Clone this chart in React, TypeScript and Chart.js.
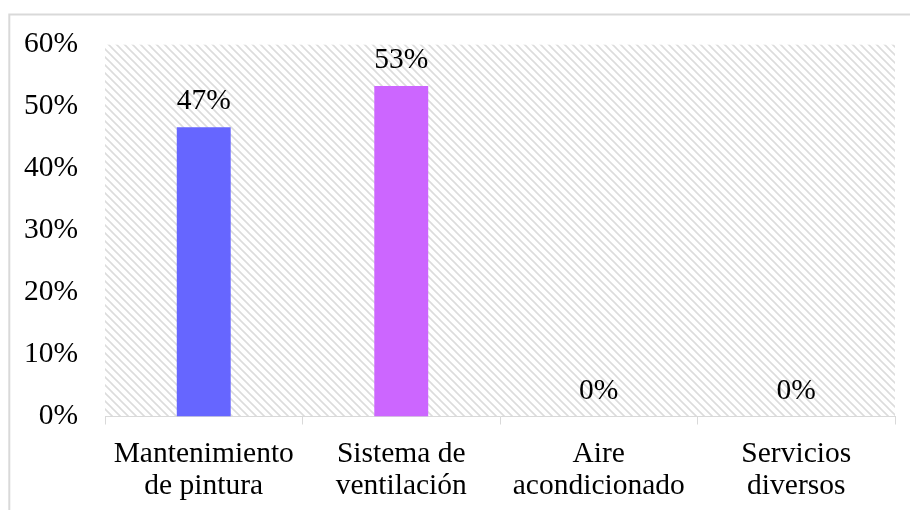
import React, { useEffect, useRef } from "react";
import { Chart, registerables } from "chart.js";

Chart.register(...registerables);

const categories: string[][] = [
  ["Mantenimiento", "de pintura"],
  ["Sistema de", "ventilación"],
  ["Aire", "acondicionado"],
  ["Servicios", "diversos"],
];
const values: number[] = [46.67, 53.33, 0, 0];
const valueLabels: string[] = ["47%", "53%", "0%", "0%"];
const barColors: string[] = ["#6666FF", "#CC66FF", "#6666FF", "#CC66FF"];
const yTicks = { min: 0, max: 60, step: 10 };

const FONT = "'Liberation Serif', 'Times New Roman', serif";
const FS = 29.5;

function makePattern(ctx: CanvasRenderingContext2D): CanvasPattern | string {
  const c = document.createElement("canvas");
  c.width = 8;
  c.height = 8;
  const g = c.getContext("2d");
  if (!g) return "#eee";
  g.fillStyle = "#ffffff";
  g.fillRect(0, 0, 8, 8);
  g.strokeStyle = "#dcdcdc";
  g.lineWidth = 1.6;
  g.beginPath();
  g.moveTo(-2, -2);
  g.lineTo(10, 10);
  g.moveTo(-2, 6);
  g.lineTo(2, 10);
  g.moveTo(6, -2);
  g.lineTo(10, 2);
  g.stroke();
  return ctx.createPattern(c, "repeat") || "#eee";
}

const decorPlugin = {
  id: "decor",
  beforeDraw(chart: any) {
    const { ctx, chartArea } = chart;
    ctx.save();
    ctx.fillStyle = "#ffffff";
    ctx.fillRect(0, 0, chart.width, chart.height);
    ctx.strokeStyle = "#d9d9d9";
    ctx.lineWidth = 2;
    ctx.beginPath();
    ctx.moveTo(9.3, chart.height);
    ctx.lineTo(9.3, 14.5);
    ctx.lineTo(chart.width, 14.5);
    ctx.stroke();
    ctx.fillStyle = makePattern(ctx) as any;
    ctx.fillRect(
      chartArea.left,
      chartArea.top,
      chartArea.right - chartArea.left,
      chartArea.bottom - chartArea.top
    );
    ctx.restore();
  },
  afterDatasetsDraw(chart: any) {
    const { ctx } = chart;
    const meta = chart.getDatasetMeta(0);
    ctx.save();
    ctx.font = `${FS}px ${FONT}`;
    ctx.fillStyle = "#000000";
    ctx.textAlign = "center";
    ctx.textBaseline = "alphabetic";
    meta.data.forEach((bar: any, i: number) => {
      ctx.fillText(valueLabels[i], bar.x, bar.y - 18);
    });
    ctx.restore();
  },
};

export default function App() {
  const ref = useRef<HTMLCanvasElement>(null);
  useEffect(() => {
    document.body.style.margin = "0";
    if (!ref.current) return;
    const chart = new Chart(ref.current, {
      type: "bar",
      data: {
        labels: categories,
        datasets: [
          {
            data: values,
            backgroundColor: barColors,
            borderWidth: 0,
            barPercentage: 0.273,
            categoryPercentage: 1,
          },
        ],
      },
      options: {
        responsive: false,
        animation: false,
        layout: { padding: { left: 0, top: 43.5, right: 15, bottom: 0 } },
        plugins: {
          legend: { display: false },
          tooltip: { enabled: false },
        },
        scales: {
          x: {
            grid: {
              display: true,
              drawOnChartArea: false,
              drawTicks: true,
              tickLength: 8,
              color: "#d9d9d9",
              offset: true,
            },
            border: { display: true, color: "#d9d9d9", width: 1 },
            ticks: {
              color: "#000000",
              font: { family: FONT, size: FS, lineHeight: 1.07 },
              padding: 14,
              maxRotation: 0,
              autoSkip: false,
            },
            afterFit: (s: any) => {
              s.height = 93.5;
            },
          },
          y: {
            min: yTicks.min,
            max: yTicks.max,
            grid: { display: false, drawTicks: false },
            border: { display: false },
            ticks: {
              stepSize: yTicks.step,
              color: "#000000",
              font: { family: FONT, size: FS },
              padding: 27,
              callback: (v: any) => `${v}%`,
            },
            afterFit: (s: any) => {
              s.width = 105;
            },
          },
        },
      },
      plugins: [decorPlugin],
    });
    return () => chart.destroy();
  }, []);
  return (
    <div style={{ width: 910, height: 510 }}>
      <canvas ref={ref} width={910} height={510} />
    </div>
  );
}
